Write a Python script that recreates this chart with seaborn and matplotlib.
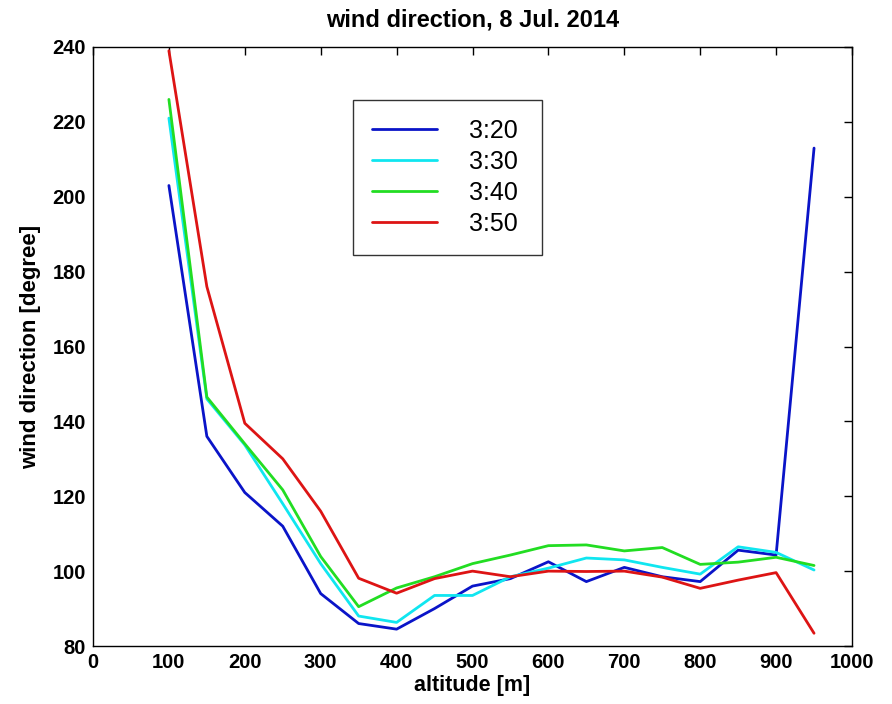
import numpy as np
import pandas as pd
import matplotlib
matplotlib.use("Agg")
import matplotlib.pyplot as plt
import seaborn as sns

altitude = [100, 150, 200, 250, 300, 350, 400, 450, 500, 550, 600, 650, 700, 750, 800, 850, 900, 950]
dir_320 = [203, 136, 121, 112, 94, 86, 84.5, 90, 96, 98, 102.5, 97.2, 101, 98.5, 97.2, 105.6, 104.3, 213]
dir_330 = [221, 146, 133.7, 118, 102, 88, 86.3, 93.5, 93.5, 98.5, 100.8, 103.5, 103, 101, 99.2, 106.5, 105, 100.3]
dir_340 = [226, 146.5, 134, 121.7, 103.9, 90.5, 95.5, 98.5, 102, 104.3, 106.8, 107, 105.4, 106.3, 101.8, 102.4, 103.7, 101.5]
dir_350 = [239, 176, 139.5, 130, 116, 98.1, 94.1, 98, 100, 98.5, 100, 99.9, 100, 98.4, 95.4, 97.6, 99.6, 83.4]
labels = ["3:20", "3:30", "3:40", "3:50"]
colors = ["#0a14c8", "#10e6f0", "#22dd22", "#dd1414"]

frames = []
for lab, vals in zip(labels, [dir_320, dir_330, dir_340, dir_350]):
    frames.append(pd.DataFrame({"altitude": altitude, "direction": vals, "time": lab}))
df = pd.concat(frames, ignore_index=True)

sns.set_style("white")
plt.rcParams["font.family"] = ["Liberation Sans", "DejaVu Sans"]
plt.rcParams["text.color"] = "black"
plt.rcParams["axes.labelcolor"] = "black"
plt.rcParams["xtick.color"] = "black"
plt.rcParams["ytick.color"] = "black"

fig = plt.figure(figsize=(8.92, 7.04), dpi=100)
ax = fig.add_axes([93/892, 1-646/704, (852-93)/892, (646-47)/704])

sns.lineplot(data=df, x="altitude", y="direction", hue="time", palette=colors,
             linewidth=2, ax=ax, estimator=None, sort=False)

ax.set_xlim(0, 1000)
ax.set_ylim(80, 240)
ax.set_xticks(np.arange(0, 1001, 100))
ax.set_yticks(np.arange(80, 241, 20))
ax.tick_params(direction="in", top=True, right=True, length=6, width=1,
               labelsize=14.5, colors="black", pad=5)
for lbl in ax.get_xticklabels() + ax.get_yticklabels():
    lbl.set_fontweight("bold")
for sp in ax.spines.values():
    sp.set_color("black")
    sp.set_linewidth(1)

ax.set_xlabel("altitude [m]", fontsize=15.5, fontweight="bold", labelpad=2, color="black")
ax.set_ylabel("wind direction [degree]", fontsize=16, fontweight="bold", labelpad=8, color="black")
ax.set_title("wind direction, 8 Jul. 2014", fontsize=17, fontweight="bold", pad=15, color="black")

handles, _ = ax.get_legend_handles_labels()
x0 = (353-93)/759
y0 = (646-252)/599
w = (542-353)/759
h = (252-100)/599
leg = ax.legend(handles, labels, loc="upper left",
                bbox_to_anchor=(x0, y0, w, h), mode="expand", fontsize=18,
                frameon=True, fancybox=False, edgecolor="black",
                handlelength=2.6, handletextpad=1.3, labelspacing=0.28,
                borderpad=0.75, borderaxespad=0, labelcolor="black")
leg.get_frame().set_linewidth(1)

fig.savefig("out.png", dpi=100)
